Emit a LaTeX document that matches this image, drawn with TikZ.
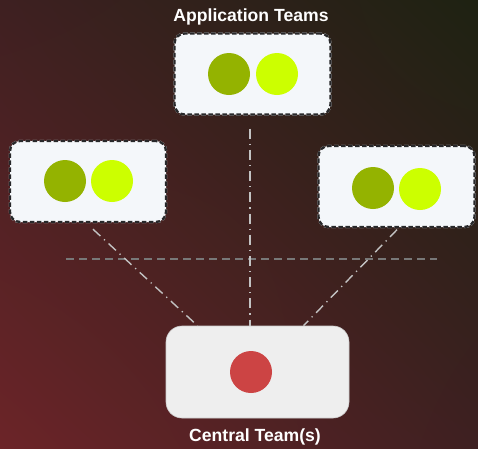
\documentclass[tikz,border=0pt]{standalone}
\usepackage{fontspec}
\setmainfont{Liberation Sans}
\usetikzlibrary{shadings}
\definecolor{bgred}{RGB}{108,36,40}
\definecolor{bgmid}{RGB}{62,32,33}
\definecolor{bgdark}{RGB}{26,22,20}
\definecolor{bgcorner}{RGB}{30,34,18}
\definecolor{appfill}{RGB}{244,247,250}
\definecolor{appedge}{RGB}{40,40,42}
\definecolor{coreolive}{RGB}{148,179,0}
\definecolor{corelime}{RGB}{204,255,0}
\definecolor{centralfill}{RGB}{238,238,238}
\definecolor{centralred}{RGB}{204,68,68}
\definecolor{linkgray}{RGB}{195,195,195}
\definecolor{splitgray}{RGB}{120,120,120}
\begin{document}
\begin{tikzpicture}[x=1pt,y=-1pt,
    teambox/.style={rectangle, rounded corners=10pt, fill=appfill,
      preaction={draw=white!80!gray, line width=2.4pt},
      draw=appedge, line width=2.4pt, dash pattern=on 4.5pt off 2.5pt,
      minimum width=156pt, minimum height=81pt, inner sep=0pt},
    centralbox/.style={rectangle, rounded corners=16pt, fill=centralfill,
      draw=black!20, line width=0.6pt, minimum width=183pt,
      minimum height=92pt, inner sep=0pt},
    dot/.style={circle, minimum size=42pt, inner sep=0pt},
    link/.style={draw=linkgray, line width=1.4pt,
      dash pattern=on 10pt off 5pt on 1.2pt off 5pt},
    title/.style={text=white, font=\fontsize{17.6}{20}\selectfont\bfseries}]
  % background
  \shade[upper left=bgmid, upper right=bgcorner, lower left=bgred,
    lower right=bgmid] (0,0) rectangle (478,448);
  \useasboundingbox (0,0) rectangle (478,448);
  % teams
  \node[teambox] (app1) at (252.5,74) {};
  \node[teambox] (app2) at (88,181.5) {};
  \node[teambox] (app3) at (396.5,186.5) {};
  \node[centralbox] (core) at (257.5,372) {};
  \node[dot, fill=coreolive] (a1) at (229,74) {};
  \node[dot, fill=corelime] (b1) at (277,74) {};
  \node[dot, fill=coreolive] (a2) at (65,181) {};
  \node[dot, fill=corelime] (b2) at (112,181) {};
  \node[dot, fill=coreolive] (a3) at (373,188) {};
  \node[dot, fill=corelime] (b3) at (420,189) {};
  \node[dot, fill=centralred] (c) at (251,372) {};
  \node[title] (apps) at (251,17) {Application Teams};
  \node[title] (central) at (255,437) {Central Team(s)};
  % split line
  \coordinate (s1) at (66,259);
  \coordinate (s2) at (437,259);
  \draw[splitgray, line width=1.2pt, dash pattern=on 8pt off 5pt] (s1) -- (s2);
  % links
  \draw[link] ([xshift=5pt,yshift=-6pt]app2.south) -- ([xshift=-60pt]core.north);
  \draw[link] ([xshift=-2.5pt,yshift=-13pt]app1.south) -- ([xshift=-7.5pt]core.north);
  \draw[link] ([xshift=0.5pt,yshift=-1.5pt]app3.south) -- ([xshift=46pt]core.north);
\end{tikzpicture}
\end{document}
